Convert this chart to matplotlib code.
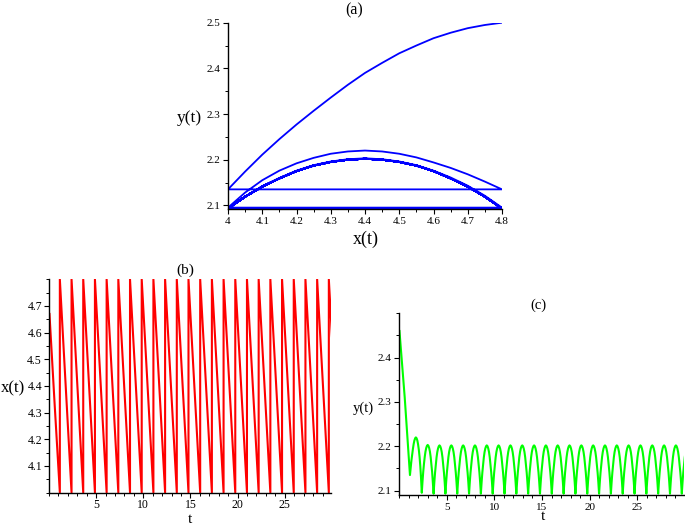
import numpy as np
import matplotlib
matplotlib.use("Agg")
import matplotlib.pyplot as plt
from matplotlib.ticker import MultipleLocator

plt.rcParams['font.family'] = ['Liberation Serif', 'DejaVu Serif']

# ---------------- data ----------------
# impulse (jump) times of x(t): x drops 4.8 -> 4.0 then jumps back to 4.8
jump_times = [1.15, 2.39, 3.63, 4.87, 6.11, 7.35, 8.59, 9.83, 11.07, 12.31,
              13.55, 14.79, 16.03, 17.27, 18.51, 19.75, 20.99, 22.23, 23.47,
              24.71, 25.95, 27.19, 28.43, 29.67]
period = 1.24

# position inside one impulse cycle, and x / y over one cycle
cycle_frac = [0.0, 0.0625, 0.125, 0.1875, 0.25, 0.3125, 0.375, 0.4375, 0.5,
              0.5625, 0.625, 0.6875, 0.75, 0.8125, 0.875, 0.9375, 1.0]
x_cycle = [4.80, 4.75, 4.70, 4.65, 4.60, 4.55, 4.50, 4.45, 4.40,
           4.35, 4.30, 4.25, 4.20, 4.15, 4.10, 4.05, 4.00]
y_hump_first = [2.135, 2.152, 2.168, 2.182, 2.194, 2.205, 2.213, 2.218, 2.220,
                2.218, 2.213, 2.204, 2.192, 2.176, 2.155, 2.128, 2.095]
y_hump_second = [2.095, 2.121, 2.143, 2.161, 2.176, 2.188, 2.196, 2.201, 2.203,
                 2.201, 2.196, 2.188, 2.176, 2.160, 2.142, 2.119, 2.093]
y_hump_steady = [2.093, 2.119, 2.141, 2.159, 2.175, 2.187, 2.195, 2.200, 2.202,
                 2.200, 2.195, 2.187, 2.175, 2.159, 2.141, 2.119, 2.093]

# first stretch before the first impulse (time series)
t_first = [0.05, 0.6, 1.15]
x_first = [4.67, 4.33, 4.00]
y_first = [2.46, 2.31, 2.135]

# first stretch in the phase plane (from the initial point)
px_init = [4.80, 4.75, 4.70, 4.65, 4.60, 4.55, 4.50, 4.45, 4.40,
           4.35, 4.30, 4.25, 4.20, 4.15, 4.10, 4.05, 4.00]
py_init = [2.500, 2.495, 2.488, 2.478, 2.466, 2.450, 2.433, 2.412, 2.390,
           2.364, 2.336, 2.307, 2.277, 2.245, 2.211, 2.174, 2.135]

# ---------------- build trajectories ----------------
humps = [y_hump_first, y_hump_second] + [y_hump_steady] * (len(jump_times) - 2)
frac = np.array(cycle_frac)

t_series = list(t_first)
x_series = list(x_first)
y_series = list(y_first)
for k, tk in enumerate(jump_times):
    tt = tk + frac * period
    t_series += list(tt)
    x_series += list(x_cycle)
    y_series += list(humps[k])

px = list(px_init)
py = list(py_init)
for k in range(len(jump_times)):
    px += list(x_cycle)
    py += list(humps[k])

# ---------------- figure ----------------
W, H = 685, 526
fig = plt.figure(figsize=(W / 100, H / 100), dpi=100)


def ax_at(l, r, t, b):
    return fig.add_axes([l / W, 1 - b / H, (r - l) / W, (b - t) / H])


def style(ax, fs, pad=2):
    for s in ['top', 'right']:
        ax.spines[s].set_visible(False)
    for s in ['left', 'bottom']:
        ax.spines[s].set_linewidth(1.0)
    ax.tick_params(which='major', direction='out', length=3.5, width=0.8,
                   labelsize=fs, pad=pad)
    ax.tick_params(which='minor', direction='out', length=2, width=0.7)


def ftext(x, y, s, fs, va='center'):
    fig.text(x / W, 1 - y / H, s, ha='center', va=va, fontsize=fs)


# (a) phase portrait
axa = ax_at(228, 502, 22.7, 209)
axa.plot(px, py, color='#0000ff', lw=1.3)
axa.set_xlim(4.0, 4.8)
axa.set_ylim(2.092, 2.5)
axa.xaxis.set_minor_locator(MultipleLocator(0.05))
axa.yaxis.set_minor_locator(MultipleLocator(0.05))
axa.set_xticks([4.0, 4.1, 4.2, 4.3, 4.4, 4.5, 4.6, 4.7, 4.8])
axa.set_xticklabels(['4', '4.1', '4.2', '4.3', '4.4', '4.5', '4.6', '4.7', '4.8'])
axa.set_yticks([2.1, 2.2, 2.3, 2.4, 2.5])
axa.set_yticklabels(['2.1', '2.2', '2.3', '2.4', '2.5'])
style(axa, 8)
ftext(354, 10, '(a)', 11.5)
ftext(189, 118, 'y(t)', 12.5)
ftext(366, 239, 'x(t)', 13)

# (b) x(t)
axb = ax_at(49, 331, 279.3, 492.5)
axb.plot(t_series, x_series, color='#ff0000', lw=1.5)
axb.set_xlim(0, 29.9)
axb.set_ylim(4.0, 4.8)
axb.set_xticks([5, 10, 15, 20, 25])
axb.xaxis.set_minor_locator(MultipleLocator(1))
axb.set_yticks([4.1, 4.2, 4.3, 4.4, 4.5, 4.6, 4.7])
axb.yaxis.set_minor_locator(MultipleLocator(0.05))
style(axb, 8.5, pad=1.5)
ftext(185, 270, '(b)', 11)
ftext(13, 388, 'x(t)', 12)
ftext(190, 526, 't', 11, va='bottom')

# (c) y(t)
axc = ax_at(399, 684, 313.3, 495)
axc.plot(t_series, y_series, color='#00ff00', lw=1.5)
axc.set_xlim(0, 29.9)
axc.set_ylim(2.09, 2.5)
axc.set_xticks([5, 10, 15, 20, 25])
axc.xaxis.set_minor_locator(MultipleLocator(1))
axc.set_yticks([2.1, 2.2, 2.3, 2.4])
axc.yaxis.set_minor_locator(MultipleLocator(0.05))
style(axc, 8)
ftext(538, 305, '(c)', 10.5)
ftext(363, 408, 'y(t)', 10.5)
ftext(543, 517, 't', 11)

fig.savefig('out.png', dpi=100)
